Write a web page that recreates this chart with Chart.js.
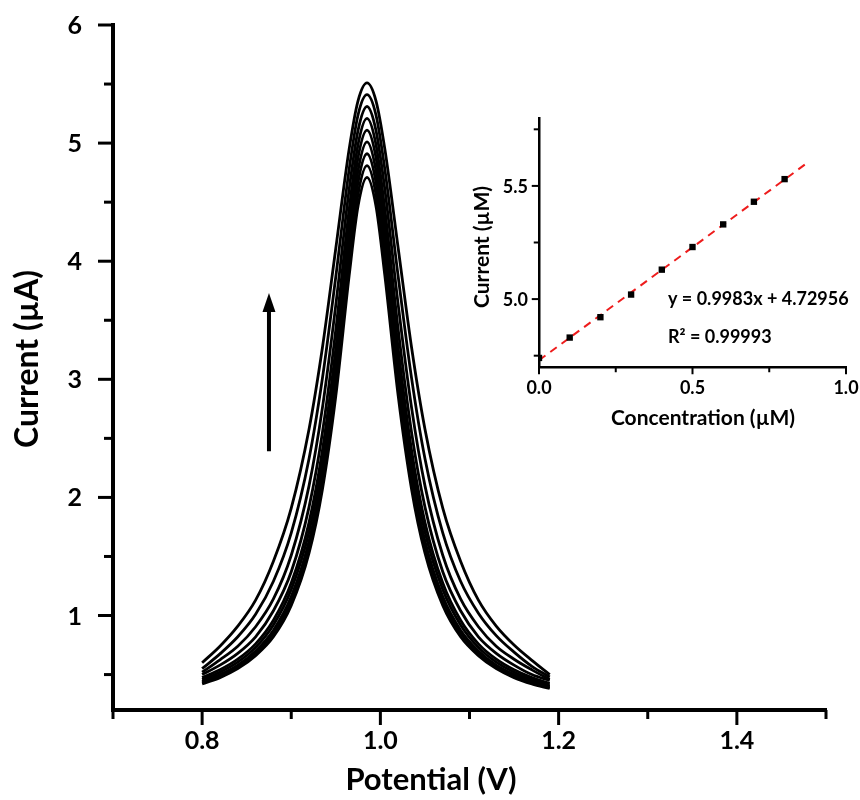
<!DOCTYPE html>
<html>
<head>
<meta charset="utf-8">
<script src="https://cdn.jsdelivr.net/npm/chart.js@4.4.1/dist/chart.umd.min.js"></script>
<style>
  html, body { margin: 0; padding: 0; background: #fff; }
  #wrap { position: relative; width: 860px; height: 800px; }
  #mainChart { position: absolute; left: 0; top: 0; }
  #insetChart { position: absolute; left: 460px; top: 100px; }
</style>
</head>
<body>
<div id="wrap">
  <canvas id="mainChart" width="860" height="800"></canvas>
  <canvas id="insetChart" width="400" height="340"></canvas>
</div>
<script>
// Potencial comun para todas las curvas DPV (V)
const potentials = [0.800, 0.820, 0.840, 0.860, 0.880, 0.900, 0.920, 0.935, 0.950, 0.965, 0.975, 0.985,
  0.995, 1.005, 1.020, 1.035, 1.050, 1.070, 1.090, 1.110, 1.130, 1.150, 1.170, 1.190];

// Corriente (uA) de cada curva, de la mas alta a la mas baja
const curve1 = [0.60, 0.74, 0.91, 1.13, 1.46, 1.91, 2.58, 3.27, 4.11, 4.95, 5.36, 5.51, 5.36, 4.95, 4.11, 3.27, 2.58, 1.91, 1.46, 1.13, 0.91, 0.75, 0.62, 0.50];
const curve2 = [0.55, 0.675, 0.82, 1.01, 1.29, 1.70, 2.33, 3.01, 3.87, 4.78, 5.24, 5.41, 5.24, 4.78, 3.87, 3.01, 2.33, 1.70, 1.29, 1.02, 0.83, 0.69, 0.57, 0.48];
const curve3 = [0.52, 0.625, 0.74, 0.905, 1.14, 1.51, 2.10, 2.76, 3.63, 4.61, 5.11, 5.31, 5.11, 4.61, 3.63, 2.76, 2.10, 1.51, 1.14, 0.905, 0.74, 0.63, 0.54, 0.46];
const curve4 = [0.50, 0.58, 0.68, 0.82, 1.04, 1.37, 1.92, 2.55, 3.42, 4.44, 4.99, 5.21, 4.99, 4.44, 3.42, 2.55, 1.92, 1.37, 1.04, 0.82, 0.68, 0.58, 0.50, 0.45];
const curve5 = [0.474, 0.54, 0.63, 0.76, 0.96, 1.275, 1.79, 2.40, 3.26, 4.30, 4.88, 5.11, 4.88, 4.30, 3.26, 2.40, 1.79, 1.275, 0.96, 0.76, 0.63, 0.54, 0.474, 0.426];
const curve6 = [0.457, 0.52, 0.605, 0.73, 0.92, 1.22, 1.71, 2.30, 3.15, 4.19, 4.77, 5.01, 4.77, 4.19, 3.15, 2.30, 1.71, 1.22, 0.92, 0.73, 0.605, 0.52, 0.457, 0.412];
const curve7 = [0.442, 0.50, 0.58, 0.70, 0.876, 1.16, 1.63, 2.20, 3.03, 4.07, 4.67, 4.91, 4.67, 4.07, 3.03, 2.20, 1.63, 1.16, 0.876, 0.70, 0.58, 0.50, 0.442, 0.40];
const curve8 = [0.431, 0.487, 0.565, 0.68, 0.85, 1.12, 1.58, 2.13, 2.95, 3.97, 4.57, 4.81, 4.57, 3.97, 2.95, 2.13, 1.58, 1.12, 0.85, 0.68, 0.565, 0.487, 0.431, 0.39];
const curve9 = [0.421, 0.474, 0.55, 0.66, 0.82, 1.085, 1.53, 2.07, 2.86, 3.88, 4.47, 4.71, 4.47, 3.88, 2.86, 2.07, 1.53, 1.085, 0.82, 0.66, 0.55, 0.474, 0.421, 0.382];
const curves = [curve1, curve2, curve3, curve4, curve5, curve6, curve7, curve8, curve9];

// Ejes del grafico principal
const xTicksMain = [0.7, 0.8, 0.9, 1.0, 1.1, 1.2, 1.3, 1.4, 1.5];
const xLabelsMain = [0.8, 1.0, 1.2, 1.4];
const yTicksMain = [0.5, 1, 1.5, 2, 2.5, 3, 3.5, 4, 4.5, 5, 5.5, 6];
const yLabelsMain = [1, 2, 3, 4, 5, 6];

// Flecha (coordenadas de datos)
const arrowFrom = { x: 0.875, y: 2.39 };
const arrowTo = { x: 0.875, y: 3.73 };

// Recuadro: calibracion
const concentrations = [0, 0.1, 0.2, 0.3, 0.4, 0.5, 0.6, 0.7, 0.8];
const peakCurrents = [4.74, 4.83, 4.92, 5.02, 5.13, 5.23, 5.33, 5.43, 5.53];
const fitX = [0, 0.88];
const fitY = [4.7296, 5.6081];
const xTicksInset = [0, 0.25, 0.5, 0.75, 1.0];
const xLabelsInset = [0, 0.5, 1.0];
const yTicksInset = [4.75, 5.0, 5.25, 5.5, 5.75];
const yLabelsInset = [5.0, 5.5];

const FONT = 'Lato, "Open Sans", sans-serif';
Chart.defaults.font.family = FONT;
Chart.defaults.color = '#000';

// marcas y etiquetas de los ejes, a partir de las escalas de Chart.js
function drawAxes(ctx, area, xScale, yScale, cfg) {
  ctx.save();
  ctx.strokeStyle = '#000';
  ctx.fillStyle = '#000';
  ctx.lineWidth = cfg.tickWidth;
  ctx.font = 'bold ' + cfg.fontSize + 'px ' + FONT;
  cfg.yTicks.forEach((v) => {
    const py = yScale.getPixelForValue(v);
    const major = cfg.yLabels.includes(v);
    const len = major ? cfg.major : cfg.minor;
    ctx.beginPath();
    ctx.moveTo(area.left - cfg.axis / 2 - len, py);
    ctx.lineTo(area.left, py);
    ctx.stroke();
    if (major) {
      ctx.textAlign = 'right';
      ctx.textBaseline = 'middle';
      ctx.fillText(cfg.yFmt(v), area.left - cfg.yPad, py + 1);
    }
  });
  cfg.xTicks.forEach((v) => {
    const px = xScale.getPixelForValue(v);
    const major = cfg.xLabels.includes(v);
    const len = major ? cfg.major : cfg.minor;
    ctx.beginPath();
    ctx.moveTo(px, area.bottom);
    ctx.lineTo(px, area.bottom + cfg.axis / 2 + len);
    ctx.stroke();
    if (major) {
      ctx.textAlign = 'center';
      ctx.textBaseline = 'middle';
      ctx.fillText(v.toFixed(1), px, area.bottom + cfg.xPad);
    }
  });
  ctx.restore();
}

const mainDecor = {
  id: 'mainDecor',
  afterDraw(chart) {
    const { ctx, chartArea, scales: { x, y } } = chart;
    drawAxes(ctx, chartArea, x, y, {
      xTicks: xTicksMain, xLabels: xLabelsMain, yTicks: yTicksMain, yLabels: yLabelsMain,
      yFmt: (v) => String(v), tickWidth: 3, axis: 4, major: 13, minor: 7,
      fontSize: 25, yPad: 31, xPad: 31
    });

    // flecha
    const ax = x.getPixelForValue(arrowFrom.x);
    const y0 = y.getPixelForValue(arrowFrom.y);
    const y1 = y.getPixelForValue(arrowTo.y);
    ctx.save();
    ctx.strokeStyle = '#000';
    ctx.fillStyle = '#000';
    ctx.lineWidth = 4;
    ctx.beginPath();
    ctx.moveTo(ax, y0);
    ctx.lineTo(ax, y1 + 15);
    ctx.stroke();
    ctx.beginPath();
    ctx.moveTo(ax, y1);
    ctx.lineTo(ax - 6.5, y1 + 19);
    ctx.lineTo(ax + 6.5, y1 + 19);
    ctx.closePath();
    ctx.fill();

    // titulos de ejes
    ctx.font = 'bold 31px ' + FONT;
    ctx.textAlign = 'center';
    ctx.textBaseline = 'middle';
    ctx.fillText('Potential (V)', 431, 780);
    ctx.font = 'bold 32px ' + FONT;
    ctx.translate(28, 359);
    ctx.rotate(-Math.PI / 2);
    ctx.fillText('Current (\u00b5A)', 0, 0);
    ctx.restore();
  }
};

const insetDecor = {
  id: 'insetDecor',
  afterDraw(chart) {
    const { ctx, chartArea, scales: { x, y } } = chart;
    drawAxes(ctx, chartArea, x, y, {
      xTicks: xTicksInset, xLabels: xLabelsInset, yTicks: yTicksInset, yLabels: yLabelsInset,
      yFmt: (v) => v.toFixed(1), tickWidth: 2, axis: 2.5, major: 6, minor: 4,
      fontSize: 18, yPad: 11, xPad: 21
    });
    ctx.save();
    ctx.fillStyle = '#000';
    ctx.font = 'bold 21px ' + FONT;
    ctx.textAlign = 'center';
    ctx.textBaseline = 'middle';
    ctx.fillText('Concentration (\u00b5M)', 243, 318);
    ctx.font = 'bold 18px ' + FONT;
    ctx.textAlign = 'left';
    ctx.fillText('y = 0.9983x + 4.72956', 208, 199);
    ctx.fillText('R\u00b2 = 0.99993', 208, 237);
    ctx.font = 'bold 21px ' + FONT;
    ctx.textAlign = 'center';
    ctx.translate(22, 147);
    ctx.rotate(-Math.PI / 2);
    ctx.fillText('Current (\u00b5M)', 0, 0);
    ctx.restore();
  }
};

function fixedTicks(values) {
  return (scale) => { scale.ticks = values.map((v) => ({ value: v })); };
}

function axisOptions(min, max, ticks, size, borderWidth, vertical) {
  return {
    type: 'linear',
    min: min,
    max: max,
    afterBuildTicks: fixedTicks(ticks),
    afterFit: (s) => {
      if (vertical) { s.width = size; } else { s.height = size; }
      s.paddingTop = 0; s.paddingBottom = 0; s.paddingLeft = 0; s.paddingRight = 0;
    },
    grid: { display: false, drawTicks: false },
    border: { display: true, width: borderWidth, color: '#000' },
    ticks: { display: false }
  };
}

new Chart(document.getElementById('mainChart'), {
  type: 'line',
  data: {
    datasets: curves.map((c) => ({
      data: potentials.map((p, i) => ({ x: p, y: c[i] })),
      borderColor: '#000',
      borderWidth: 2.8,
      pointRadius: 0,
      fill: false,
      cubicInterpolationMode: 'monotone'
    }))
  },
  options: {
    responsive: false,
    animation: false,
    layout: { padding: { top: 25, right: 34, left: 0, bottom: 0 } },
    plugins: { legend: { display: false }, tooltip: { enabled: false } },
    scales: {
      x: axisOptions(0.7, 1.5, xTicksMain, 90, 4, false),
      y: axisOptions(0.2, 6, yTicksMain, 113, 4, true)
    }
  },
  plugins: [mainDecor]
});

new Chart(document.getElementById('insetChart'), {
  type: 'scatter',
  data: {
    datasets: [
      {
        data: concentrations.map((c, i) => ({ x: c, y: peakCurrents[i] })),
        pointStyle: 'rect',
        pointRadius: 4.5,
        backgroundColor: '#000',
        borderWidth: 0
      },
      {
        type: 'line',
        data: fitX.map((v, i) => ({ x: v, y: fitY[i] })),
        borderColor: '#ee1c1c',
        borderWidth: 2,
        borderDash: [8, 6],
        pointRadius: 0
      }
    ]
  },
  options: {
    responsive: false,
    animation: false,
    layout: { padding: { top: 18, right: 14, left: 0, bottom: 0 } },
    plugins: { legend: { display: false }, tooltip: { enabled: false } },
    scales: {
      x: axisOptions(0, 1, xTicksInset, 73, 2.5, false),
      y: axisOptions(4.7, 5.8, yTicksInset, 79, 2.5, true)
    }
  },
  plugins: [insetDecor]
});
</script>
</body>
</html>
